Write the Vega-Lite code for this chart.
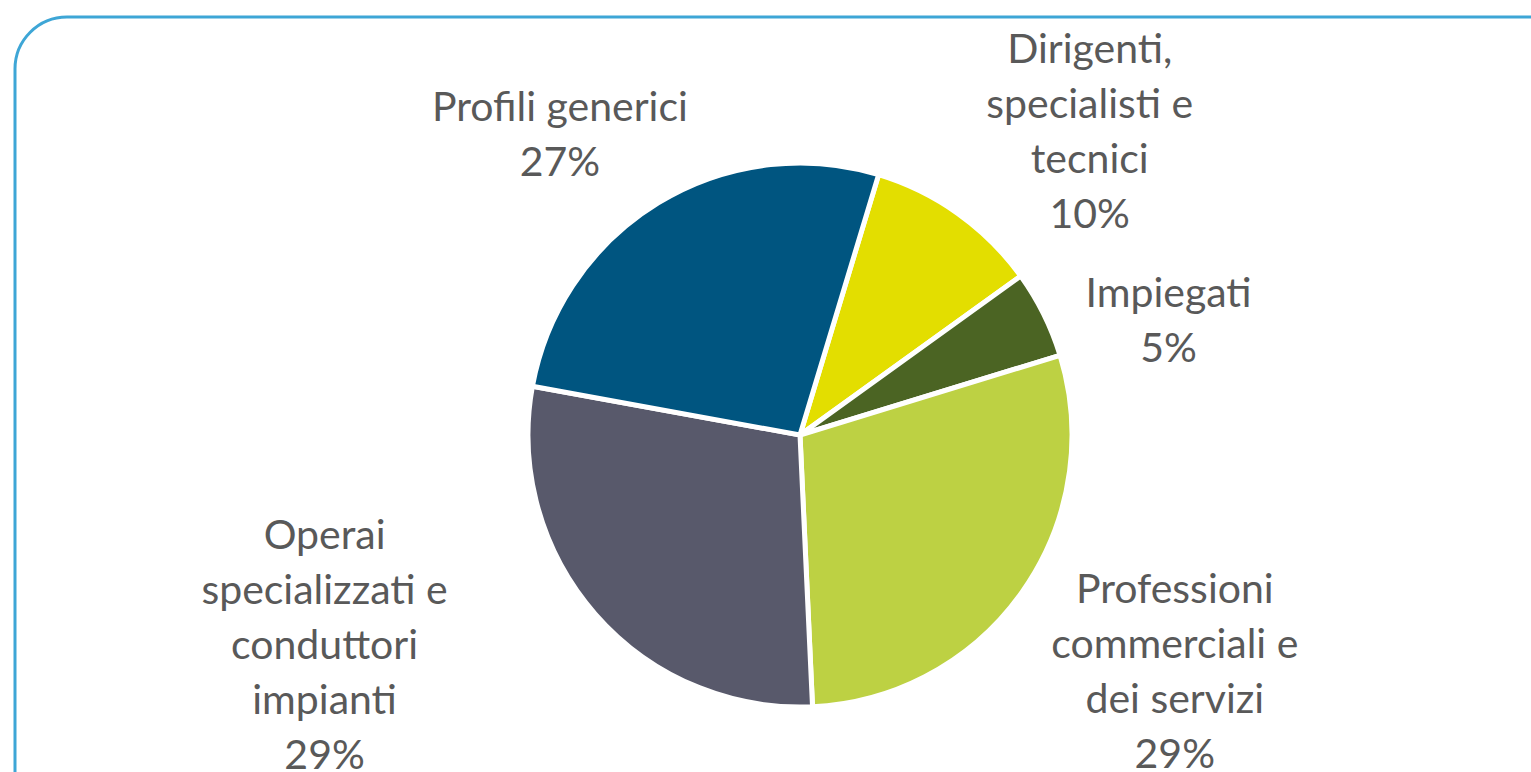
{
  "$schema": "https://vega.github.io/schema/vega-lite/v6.json",
  "autosize": {"type": "none"},
  "width": 1570,
  "height": 836,
  "padding": {"left": 15, "top": 17, "right": -54, "bottom": -81},
  "background": "white",
  "config": {
    "view": {"stroke": null}
  },
  "data": {
    "values": [
      {"label": "Dirigenti,|specialisti e|tecnici", "value": 10.4, "order": 1},
      {"label": "Impiegati", "value": 5.2, "order": 2},
      {"label": "Professioni|commerciali e|dei servizi", "value": 29.0, "order": 3},
      {"label": "Operai|specializzati e|conduttori|impianti", "value": 28.6, "order": 4},
      {"label": "Profili generici", "value": 26.8, "order": 5}
    ]
  },
  "transform": [
    {"stack": "value", "groupby": [], "sort": [{"field": "order", "order": "ascending"}], "as": ["v0", "v1"]},
    {"calculate": "(datum.v0 + datum.v1) / 2", "as": "mid"},
    {"calculate": "datum.label + '|' + format(datum.value / 100, '.0%')", "as": "txt"}
  ],
  "layer": [
    {
      "transform": [{"filter": "datum.order == 1"}],
      "mark": {"type": "rect", "fill": null, "stroke": "#3ea6d6", "strokeWidth": 3, "cornerRadius": 52},
      "encoding": {
        "x": {"value": 0},
        "x2": {"value": "width"},
        "y": {"value": 0},
        "y2": {"value": "height"}
      }
    },
    {
      "mark": {"type": "arc", "outerRadius": 272, "stroke": "white", "strokeWidth": 5},
      "encoding": {
        "theta": {"field": "v0", "type": "quantitative", "scale": {"domain": [0, 100], "range": [0.2932, 6.5764]}},
        "theta2": {"field": "v1"},
        "color": {
          "field": "label",
          "type": "nominal",
          "scale": {
            "domain": ["Dirigenti,|specialisti e|tecnici", "Impiegati", "Professioni|commerciali e|dei servizi", "Operai|specializzati e|conduttori|impianti", "Profili generici"],
            "range": ["#e3de00", "#4b6423", "#bdd143", "#58596b", "#005580"]
          },
          "legend": null
        }
      }
    },
    {
      "transform": [{"filter": "datum.order == 1"}],
      "mark": {"type": "text", "radius": 330, "dx": 98, "dy": -115, "font": "Lato", "fontSize": 41, "lineHeight": 55, "lineBreak": "|", "color": "#595959", "align": "center", "baseline": "middle"},
      "encoding": {
        "theta": {"field": "mid", "type": "quantitative"},
        "text": {"field": "txt"}
      }
    },
    {
      "transform": [{"filter": "datum.order == 2"}],
      "mark": {"type": "text", "radius": 330, "dx": 73, "dy": 7, "font": "Lato", "fontSize": 41, "lineHeight": 55, "lineBreak": "|", "color": "#595959", "align": "center", "baseline": "middle"},
      "encoding": {
        "theta": {"field": "mid", "type": "quantitative"},
        "text": {"field": "txt"}
      }
    },
    {
      "transform": [{"filter": "datum.order == 3"}],
      "mark": {"type": "text", "radius": 330, "dx": 105, "dy": -34, "font": "Lato", "fontSize": 41, "lineHeight": 55, "lineBreak": "|", "color": "#595959", "align": "center", "baseline": "middle"},
      "encoding": {
        "theta": {"field": "mid", "type": "quantitative"},
        "text": {"field": "txt"}
      }
    },
    {
      "transform": [{"filter": "datum.order == 4"}],
      "mark": {"type": "text", "radius": 330, "dx": -227, "dy": -115, "font": "Lato", "fontSize": 41, "lineHeight": 55, "lineBreak": "|", "color": "#595959", "align": "center", "baseline": "middle"},
      "encoding": {
        "theta": {"field": "mid", "type": "quantitative"},
        "text": {"field": "txt"}
      }
    },
    {
      "transform": [{"filter": "datum.order == 5"}],
      "mark": {"type": "text", "radius": 330, "dx": -68, "dy": -44, "font": "Lato", "fontSize": 41, "lineHeight": 55, "lineBreak": "|", "color": "#595959", "align": "center", "baseline": "middle"},
      "encoding": {
        "theta": {"field": "mid", "type": "quantitative"},
        "text": {"field": "txt"}
      }
    }
  ]
}
